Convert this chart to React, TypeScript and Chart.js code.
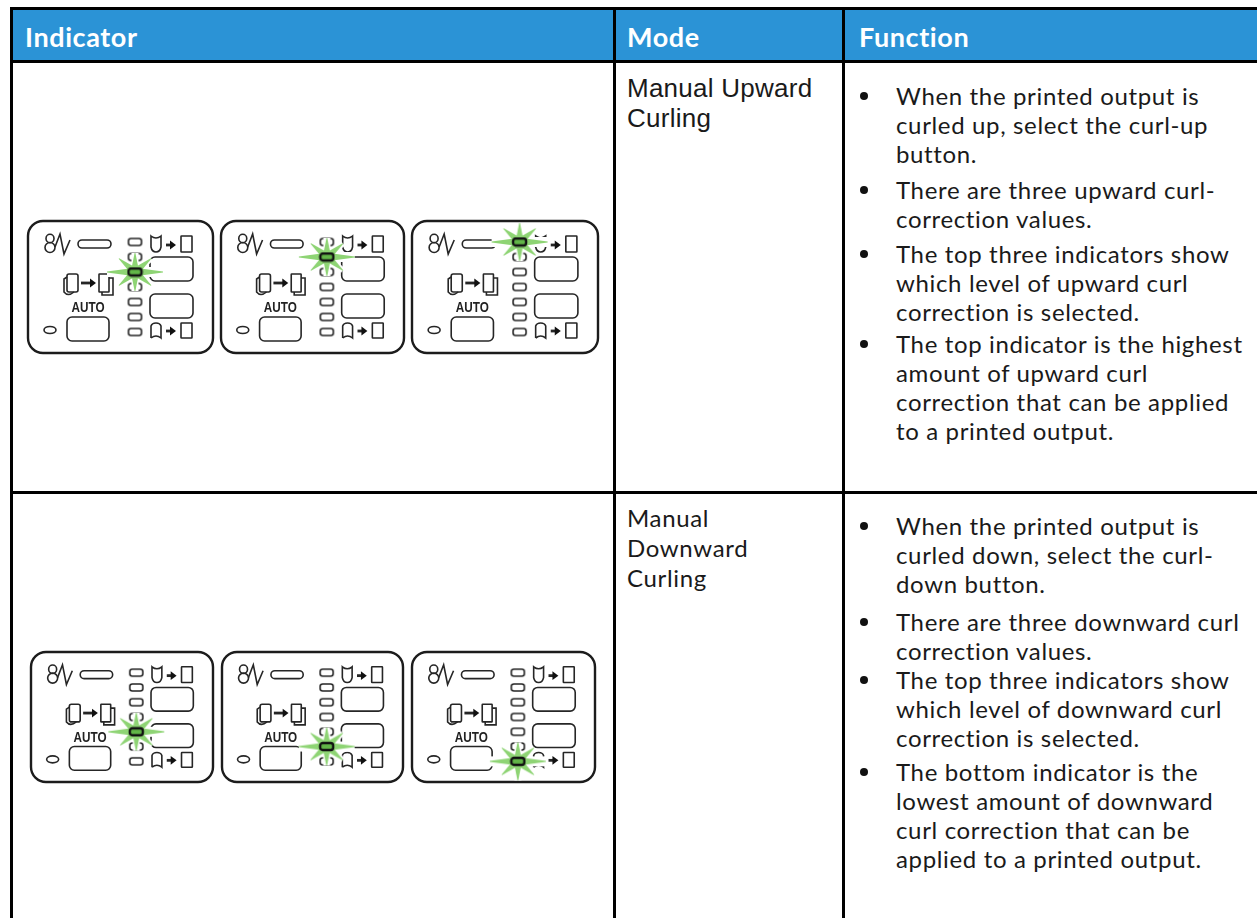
import React, { useEffect, useRef } from "react";
import { Chart, registerables } from "chart.js";

Chart.register(...registerables);

// ---- table content ----
const headers = ["Indicator", "Mode", "Function"];
const modeUpward = ["Manual Upward", "Curling"];
const modeDownward = ["Manual", "Downward", "Curling"];
const functionUpward = [
  ["When the printed output is", "curled up, select the curl-up", "button."],
  ["There are three upward curl-", "correction values."],
  ["The top three indicators show", "which level of upward curl", "correction is selected."],
  ["The top indicator is the highest", "amount of upward curl", "correction that can be applied", "to a printed output."],
];
const functionDownward = [
  ["When the printed output is", "curled down, select the curl-", "down button."],
  ["There are three downward curl", "correction values."],
  ["The top three indicators show", "which level of downward curl", "correction is selected."],
  ["The bottom indicator is the", "lowest amount of downward", "curl correction that can be", "applied to a printed output."],
];

// ---- indicator data: the seven levels of the LED column, and the lit level per panel ----
const ledLevels = [0, 1, 2, 3, 4, 5, 6];
const upwardLit = [2, 1, 0];
const downwardLit = [4, 5, 6];

// ---- layout ----
const upwardPanels = [
  { left: 28, top: 221, w: 185, h: 132 },
  { left: 221, top: 221, w: 183, h: 132 },
  { left: 412, top: 221, w: 186, h: 132 },
];
const downwardPanels = [
  { left: 31, top: 652, w: 182, h: 130 },
  { left: 222, top: 652, w: 181, h: 130 },
  { left: 412, top: 652, w: 183, h: 130 },
];
const itemTopsUp = [81, 175, 239, 329];
const itemTopsDown = [511, 607, 665, 757];
const INK = "#262626";
const PAD = 14;

function ledSprite(lit: boolean) {
  const c = document.createElement("canvas");
  c.width = 17;
  c.height = 11;
  const g = c.getContext("2d")!;
  g.beginPath();
  g.roundRect(2, 2, 13, 7, 2.5);
  g.fillStyle = lit ? "#62b648" : "#ffffff";
  g.fill();
  g.lineWidth = lit ? 2.4 : 1.6;
  g.strokeStyle = lit ? "#111111" : INK;
  g.stroke();
  return c;
}

function burstSprite() {
  const c = document.createElement("canvas");
  c.width = 72;
  c.height = 72;
  const g = c.getContext("2d")!;
  const m = 36;
  const rays: [number, number, number][] = [
    [0, 28, 5], [180, 28, 5], [90, 19, 3.5], [270, 19, 3.5], [40, 21, 3], [140, 21, 3], [220, 21, 3], [320, 21, 3],
  ];
  // white halo that cuts whatever lies under the burst
  g.fillStyle = "#ffffff";
  for (const [a, l, h] of rays) {
    g.save();
    g.translate(m, m);
    g.rotate((a * Math.PI) / 180);
    g.fillRect(0, -h, l, h * 2);
    g.restore();
  }
  const grad = g.createRadialGradient(m, m, 3, m, m, 28);
  grad.addColorStop(0, "#3c9c26");
  grad.addColorStop(0.7, "#62bc44");
  grad.addColorStop(1, "#8ed474");
  g.fillStyle = grad;
  for (const [a, l] of rays) {
    g.save();
    g.translate(m, m);
    g.rotate((a * Math.PI) / 180);
    g.beginPath();
    g.moveTo(0, -4.2);
    g.lineTo(l, -0.4);
    g.lineTo(l, 0.4);
    g.lineTo(0, 4.2);
    g.closePath();
    g.fill();
    g.restore();
  }
  return c;
}

const panelArt = {
  id: "panelArt",
  beforeDatasetsDraw(chart: any) {
    const g: CanvasRenderingContext2D = chart.ctx;
    const X = (v: number) => chart.scales.x.getPixelForValue(v);
    const Y = (v: number) => chart.scales.y.getPixelForValue(v);
    const box = (x0: number, y0: number, x1: number, y1: number, r: number) => {
      g.beginPath();
      g.roundRect(X(x0), Y(y0), X(x1) - X(x0), Y(y1) - Y(y0), r);
      g.stroke();
    };
    const path = (pts: number[][]) => {
      g.beginPath();
      pts.forEach((p, i) => (i ? g.lineTo(X(p[0]), Y(p[1])) : g.moveTo(X(p[0]), Y(p[1]))));
      g.stroke();
    };
    const arrow = (x0: number, x1: number, y: number) => {
      const lw = g.lineWidth;
      g.lineWidth = 2.8;
      path([[x0, y], [x1 - 3, y]]);
      g.lineWidth = lw;
      g.beginPath();
      g.moveTo(X(x1), Y(y));
      g.lineTo(X(x1 - 6), Y(y - 4.5));
      g.lineTo(X(x1 - 6), Y(y + 4.5));
      g.closePath();
      g.fill();
    };
    g.save();
    g.strokeStyle = "#1c1c1c";
    g.fillStyle = "#111";
    g.lineWidth = 2.4;
    box(0, 0, 185, 132, 15);
    g.strokeStyle = INK;
    g.lineWidth = 1.6;

    // jam symbol
    g.beginPath();
    g.ellipse(X(22), Y(17.5), 4, 4.2, 0, 0, 7);
    g.stroke();
    g.beginPath();
    g.ellipse(X(22), Y(26.5), 5, 5, 0, 0, 7);
    g.stroke();
    path([[27, 26], [32, 13], [36, 33], [42, 19]]);
    box(50, 19, 83, 27, 4);

    // buttons
    box(122, 36, 165, 60, 5);
    box(122, 73, 165, 97, 5);
    box(39, 96, 81, 120, 5);
    g.beginPath();
    g.ellipse(X(22), Y(109), 6, 3.5, 0, 0, 7);
    g.stroke();

    // top arrow group
    g.beginPath();
    g.moveTo(X(123), Y(15));
    g.quadraticCurveTo(X(128), Y(19), X(133), Y(15));
    g.lineTo(X(133), Y(26));
    g.quadraticCurveTo(X(132), Y(31), X(128), Y(31));
    g.quadraticCurveTo(X(124), Y(31), X(123), Y(26));
    g.closePath();
    g.stroke();
    arrow(138, 148, 24);
    box(153, 15, 164, 31, 0.5);

    // bottom arrow group
    g.beginPath();
    g.moveTo(X(123), Y(117));
    g.lineTo(X(123), Y(105));
    g.quadraticCurveTo(X(124), Y(102), X(128), Y(102));
    g.quadraticCurveTo(X(132), Y(102), X(133), Y(105));
    g.lineTo(X(133), Y(117));
    g.quadraticCurveTo(X(128), Y(113), X(123), Y(117));
    g.stroke();
    arrow(138, 148, 110);
    box(153, 102, 164, 117, 0.5);

    // copy sets
    box(39, 53, 50, 71, 2);
    g.beginPath();
    g.moveTo(X(39), Y(56));
    g.lineTo(X(36), Y(58));
    g.lineTo(X(36), Y(71));
    g.quadraticCurveTo(X(40), Y(76), X(46), Y(71));
    g.stroke();
    arrow(53, 68, 62);
    box(71, 53, 81, 71, 0.5);
    path([[81, 57], [85, 57], [85, 74], [74, 74], [74, 71]]);

    // AUTO
    g.fillStyle = "#222";
    g.font = 'bold 15px "Liberation Sans Narrow", "Liberation Sans"';
    g.textAlign = "center";
    g.textBaseline = "middle";
    g.fillText("AUTO", X(60), Y(87), 33);
    g.restore();
  },
};

function Panel({ box, lit }: { box: { left: number; top: number; w: number; h: number }; lit: number }) {
  const ref = useRef<HTMLCanvasElement>(null);
  useEffect(() => {
    const sx = box.w / 185;
    const sy = box.h / 132;
    const ledY = ledLevels.map((l) => 21 + l * 15);
    const chart = new Chart(ref.current!, {
      type: "scatter",
      data: {
        datasets: [
          {
            data: ledLevels.filter((l) => l !== lit).map((l) => ({ x: 107, y: ledY[l] })),
            pointStyle: ledSprite(false) as any,
            order: 2,
          },
          {
            data: [{ x: 107, y: ledY[lit] }],
            pointStyle: burstSprite() as any,
            order: 1,
          },
          {
            data: [{ x: 107, y: ledY[lit] }],
            pointStyle: ledSprite(true) as any,
            order: 0,
          },
        ],
      },
      options: {
        animation: false,
        responsive: false,
        maintainAspectRatio: false,
        layout: { padding: 0, autoPadding: false },
        plugins: { legend: { display: false }, tooltip: { enabled: false } },
        scales: {
          x: { display: false, min: -PAD / sx, max: 185 + PAD / sx },
          y: { display: false, reverse: true, min: -PAD / sy, max: 132 + PAD / sy },
        },
      },
      plugins: [panelArt],
    });
    return () => chart.destroy();
  }, [box, lit]);
  return (
    <canvas
      ref={ref}
      width={box.w + PAD * 2}
      height={box.h + PAD * 2}
      style={{
        position: "absolute",
        left: box.left - PAD,
        top: box.top - PAD,
        width: box.w + PAD * 2,
        height: box.h + PAD * 2,
        filter: "blur(0.4px)",
      }}
    />
  );
}

const bodyFont = "Lato, sans-serif";
const line = (l: number, t: number, w: number, h: number, c = "#000") => (
  <div style={{ position: "absolute", left: l, top: t, width: w, height: h, background: c }} />
);

function Lines({ left, top, lines, font, size, lh, spacing = 0 }: any) {
  return (
    <div style={{ position: "absolute", left, top, fontFamily: font, fontSize: size, lineHeight: `${lh}px`, letterSpacing: spacing, color: "#1a1a1a", whiteSpace: "nowrap" }}>
      {lines.map((s: string, i: number) => (
        <div key={i}>{s}</div>
      ))}
    </div>
  );
}

function Bullets({ items, tops }: { items: string[][]; tops: number[] }) {
  return (
    <>
      {items.map((lines, i) => (
        <React.Fragment key={i}>
          <div style={{ position: "absolute", left: 860, top: tops[i] + 11, width: 8, height: 8, borderRadius: 4, background: "#111" }} />
          <Lines left={896} top={tops[i]} lines={lines} font={bodyFont} size={24} lh={29} spacing={0.65} />
        </React.Fragment>
      ))}
    </>
  );
}

export default function App() {
  return (
    <div style={{ position: "relative", width: 1257, height: 918, overflow: "hidden", background: "#fff" }}>
      <style>{"html,body{margin:0;padding:0;background:#fff;overflow:hidden}"}</style>
      {line(10, 10, 1247, 50, "#2b93d6")}
      {line(10, 7, 1247, 3)}
      {line(10, 60, 1247, 3)}
      {line(10, 491, 1247, 3)}
      {line(10, 7, 3, 911)}
      {line(613, 7, 3, 911)}
      {line(842, 7, 3, 911)}
      {[25, 627, 859].map((x, i) => (
        <div key={i} style={{ position: "absolute", left: x, top: 18, fontFamily: bodyFont, fontWeight: 700, fontSize: 27, letterSpacing: 0.6, lineHeight: "38px", color: "#fff" }}>
          {headers[i]}
        </div>
      ))}
      <Lines left={627} top={73} lines={modeUpward} font='"Liberation Sans", sans-serif' size={26} lh={30} spacing={0.25} />
      <Lines left={627} top={503} lines={modeDownward} font={bodyFont} size={24} lh={30} spacing={0.65} />
      <Bullets items={functionUpward} tops={itemTopsUp} />
      <Bullets items={functionDownward} tops={itemTopsDown} />
      {upwardPanels.map((b, i) => <Panel key={i} box={b} lit={upwardLit[i]} />)}
      {downwardPanels.map((b, i) => <Panel key={i} box={b} lit={downwardLit[i]} />)}
    </div>
  );
}
